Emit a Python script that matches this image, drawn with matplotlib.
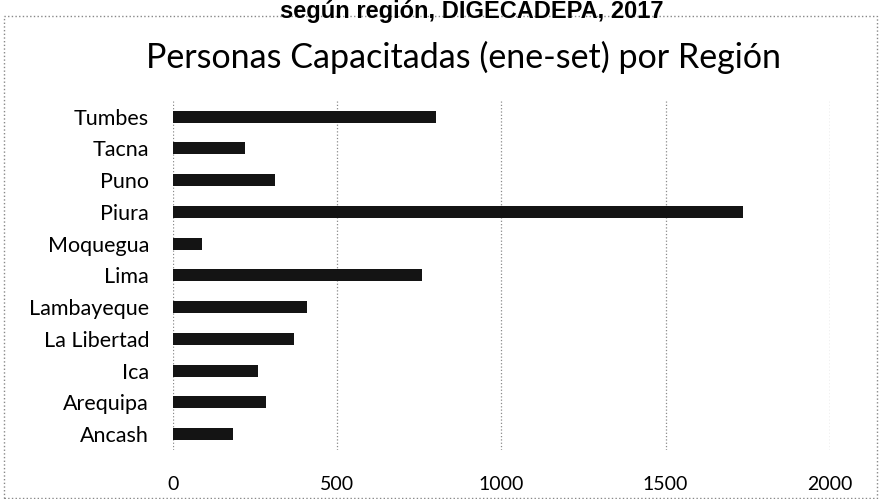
import matplotlib.pyplot as plt
from matplotlib.patches import Rectangle

# Datos
regiones = ['Ancash', 'Arequipa', 'Ica', 'La Libertad', 'Lambayeque', 'Lima',
            'Moquegua', 'Piura', 'Puno', 'Tacna', 'Tumbes']
personas = [185, 285, 260, 370, 410, 760, 90, 1735, 310, 220, 800]
ticks_x = [0, 500, 1000, 1500, 2000]

plt.rcParams['font.family'] = ['Lato', 'DejaVu Sans']

fig = plt.figure(figsize=(8.81, 4.99), dpi=100)
ax = fig.add_axes([0.196, 0.098, 0.746, 0.700])

ax.barh(regiones, personas, height=0.38, color='#141414', zorder=3)

ax.set_xlim(0, 2000)
ax.set_ylim(-0.5, len(regiones) - 0.5)
ax.set_xticks(ticks_x)
ax.set_xticklabels([str(t) for t in ticks_x])
ax.tick_params(axis='x', length=0, pad=19, labelsize=14)
ax.tick_params(axis='y', length=0, pad=17, labelsize=15.5)
ax.grid(axis='x', linestyle=':', color='#8a8a8a', linewidth=0.9, zorder=0)
for s in ax.spines.values():
    s.set_visible(False)

# título del gráfico
fig.text(0.526, 0.885, 'Personas Capacitadas (ene-set) por Región',
         ha='center', va='center', fontsize=24.5)

# título del documento (cortado arriba)
fig.text(0.535, 0.963, 'según región, DIGECADEPA, 2017', ha='center',
         va='baseline', fontsize=17, fontweight='bold',
         family=['Liberation Sans', 'DejaVu Sans'])

# borde punteado del gráfico
fig.patches.append(Rectangle((0.004, 0.003), 0.992, 0.965, transform=fig.transFigure,
                             fill=False, linestyle=':', edgecolor='#888888',
                             linewidth=1.0))

fig.savefig('out.png', dpi=100)
